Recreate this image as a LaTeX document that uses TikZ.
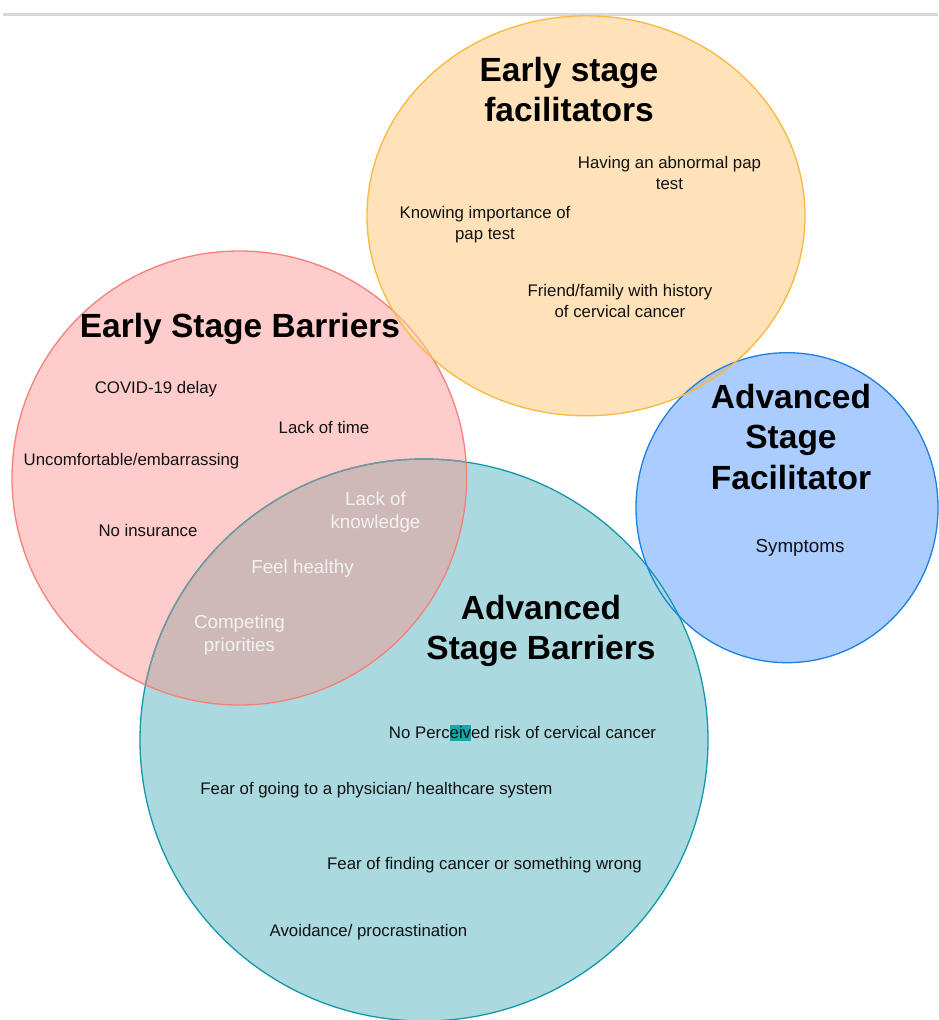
\documentclass[tikz,border=0pt]{standalone}
\usepackage{fontspec}
\setmainfont{Liberation Sans}
\definecolor{orfill}{RGB}{255,226,185}
\definecolor{orline}{RGB}{250,185,60}
\definecolor{rdfill}{RGB}{255,204,204}
\definecolor{rdline}{RGB}{246,128,120}
\definecolor{rdfade}{RGB}{248,180,160}
\definecolor{blfill}{RGB}{170,204,255}
\definecolor{blline}{RGB}{30,128,225}
\definecolor{tlfill}{RGB}{170,217,224}
\definecolor{tlline}{RGB}{18,152,170}
\definecolor{tlfade}{RGB}{125,150,158}
\definecolor{rtover}{RGB}{207,185,184}
\definecolor{obover}{RGB}{186,194,202}
\definecolor{hlteal}{RGB}{20,168,168}
\definecolor{txt}{RGB}{17,17,17}
\definecolor{lighttxt}{RGB}{242,242,242}
\definecolor{topgray}{RGB}{215,215,220}
\newcommand\hlmark[1]{\setbox0\hbox{#1}\rlap{\textcolor{hlteal}{\rule[-2.5pt]{\wd0}{15.5pt}}}#1}
\def\orangeE{(586,215.8) ellipse [x radius=219pt, y radius=200pt]}
\def\redE{(239.3,478) ellipse [x radius=227.3pt, y radius=227pt]}
\def\blueE{(787,507.7) ellipse [x radius=151pt, y radius=155pt]}
\def\tealE{(424,740) ellipse [x radius=284pt, y radius=281pt]}
\begin{document}
\begin{tikzpicture}[x=1pt,y=-1pt,
  title/.style={font=\fontsize{33.5}{40.5}\selectfont\bfseries, align=center, anchor=base, inner sep=0pt, text=black},
  item/.style={font=\fontsize{16.8}{21}\selectfont, align=center, anchor=base, inner sep=0pt, text=txt},
  bigitem/.style={item, font=\fontsize{18.8}{23.5}\selectfont},
  lightitem/.style={bigitem, text=lighttxt},
  rim/.style={line width=1.3pt}]
\useasboundingbox (0,0) rectangle (938,1020);
\fill[white] (0,0) rectangle (938,1020);
\draw[topgray, line width=2.5pt] (3,14.5) -- (938,14.5);
% fills
\fill[blfill] \blueE;
\fill[tlfill] \tealE;
\fill[rdfill] \redE;
\fill[orfill] \orangeE;
% overlaps
\begin{scope}
  \clip \tealE;
  \fill[rtover] \redE;
\end{scope}
\begin{scope}
  \clip \orangeE;
  \fill[obover] \blueE;
\end{scope}
% outlines
\draw[rim, tlline] \tealE;
\begin{scope}
  \clip \redE;
  \draw[rim, tlfade] \tealE;
\end{scope}
\draw[rim, rdline] \redE;
\begin{scope}
  \clip \orangeE;
  \draw[rim, rdfade] \redE;
\end{scope}
\draw[rim, blline] \blueE;
\draw[rim, orline] \orangeE;
% early stage facilitators (base = baseline of last line)
\node[title] (eft) at (569,121.5) {Early stage\\facilitators};
\node[item] (ef1) at (669.5,189) {Having an abnormal pap\\test};
\node[item] (ef2) at (485,239) {Knowing importance of\\pap test};
\node[item] (ef3) at (620,317) {Friend/family with history\\of cervical cancer};
% early stage barriers
\node[title] (ebt) at (240,337) {Early Stage Barriers};
\node[item] (eb1) at (156,393) {COVID-19 delay};
\node[item] (eb2) at (324,433) {Lack of time};
\node[item] (eb3) at (131.5,465) {Uncomfortable/embarrassing};
\node[item] (eb4) at (148,536) {No insurance};
% shared
\node[lightitem] (sh1) at (375.5,528.5) {Lack of\\knowledge};
\node[lightitem] (sh2) at (302.5,573) {Feel healthy};
\node[lightitem] (sh3) at (239.5,651.5) {Competing\\priorities};
% advanced stage facilitator
\node[title] (aft) at (791,489) {Advanced\\Stage\\Facilitator};
\node[bigitem] (af1) at (800,552.5) {Symptoms};
% advanced stage barriers
\node[title] (abt) at (541,659.5) {Advanced\\Stage Barriers};
\node[item] (ab1) at (522.5,738) {No Perc\hlmark{eiv}ed risk of cervical cancer};
\node[item] (ab2) at (376.5,794) {Fear of going to a physician/ healthcare system};
\node[item] (ab3) at (484.5,869) {Fear of finding cancer or something wrong};
\node[item] (ab4) at (368.5,936) {Avoidance/ procrastination};
\end{tikzpicture}
\end{document}
